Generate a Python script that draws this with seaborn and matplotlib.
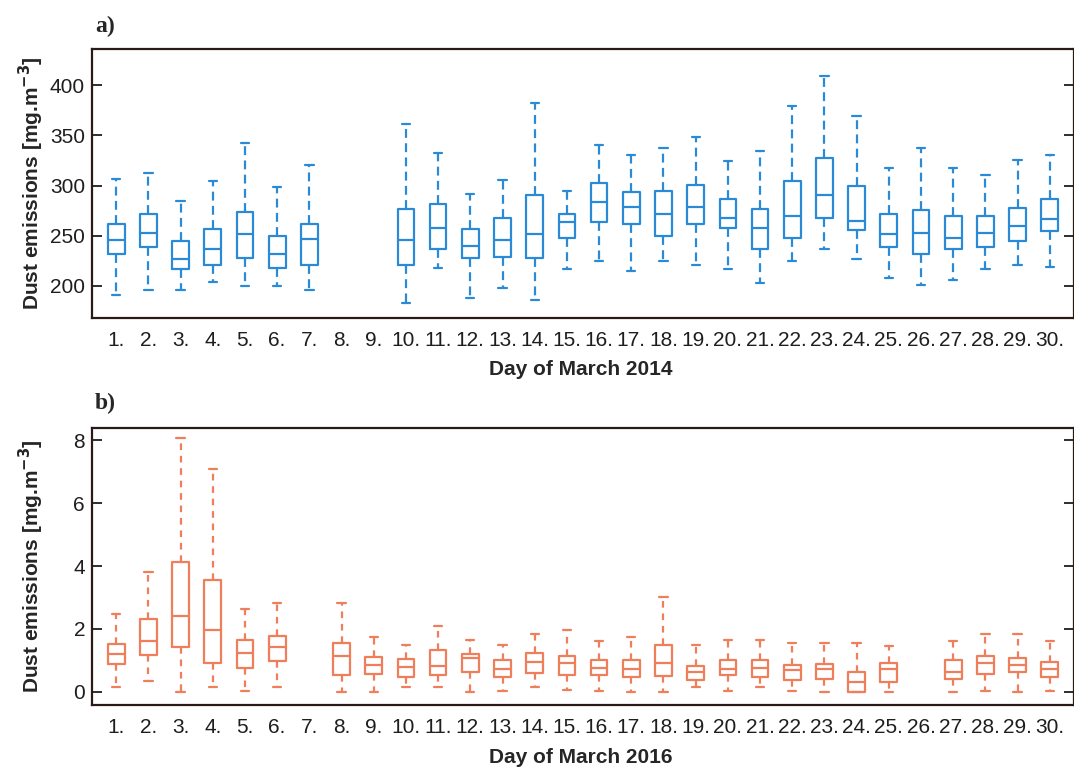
import numpy as np
import pandas as pd
import matplotlib
matplotlib.use("Agg")
import matplotlib.pyplot as plt
import seaborn as sns

days = [f"{d}." for d in range(1, 31)]

# March 2014 - five-number summaries per day (None = no data)
lo_14 = [191, 196, 196, 204, 200, 200, 196, None, None, 183, 218, 188, 198, 186,
         217, 225, 215, 225, 221, 217, 203, 225, 237, 227, 208, 201, 206, 217, 221, 219]
q1_14 = [232, 239, 217, 221, 228, 218, 221, None, None, 221, 237, 228, 229, 228,
         248, 264, 262, 250, 262, 258, 237, 248, 268, 256, 239, 232, 237, 239, 245, 255]
md_14 = [246, 253, 227, 237, 252, 232, 247, None, None, 246, 258, 240, 246, 252,
         264, 284, 279, 272, 279, 268, 258, 270, 291, 265, 252, 253, 248, 253, 260, 267]
q3_14 = [262, 272, 245, 257, 274, 250, 262, None, None, 277, 282, 257, 268, 291,
         272, 302, 294, 295, 301, 287, 277, 304, 327, 300, 272, 276, 270, 270, 278, 287]
hi_14 = [306, 312, 285, 304, 342, 299, 320, None, None, 361, 332, 292, 305, 382,
         295, 340, 330, 337, 348, 324, 334, 379, 409, 369, 317, 337, 317, 310, 325, 330]

# March 2016
lo_16 = [0.14, 0.35, 0.0, 0.14, 0.03, 0.14, None, 0.0, 0.0, 0.14, 0.14, 0.0, 0.03, 0.14,
         0.07, 0.03, 0.0, 0.0, 0.14, 0.03, 0.14, 0.03, 0.0, 0.0, 0.0, None, 0.0, 0.03, 0.0, 0.03]
q1_16 = [0.88, 1.17, 1.43, 0.92, 0.77, 0.97, None, 0.55, 0.58, 0.48, 0.55, 0.64, 0.48, 0.60,
         0.53, 0.53, 0.48, 0.50, 0.39, 0.53, 0.48, 0.37, 0.42, 0.0, 0.32, None, 0.42, 0.58, 0.64, 0.48]
md_16 = [1.20, 1.61, 2.40, 1.98, 1.22, 1.43, None, 1.13, 0.85, 0.79, 0.82, 1.06, 0.74, 0.95,
         0.90, 0.77, 0.74, 0.92, 0.64, 0.74, 0.77, 0.69, 0.71, 0.30, 0.74, None, 0.64, 0.90, 0.85, 0.74]
q3_16 = [1.51, 2.30, 4.13, 3.57, 1.66, 1.77, None, 1.54, 1.11, 1.03, 1.32, 1.20, 1.00, 1.22,
         1.13, 1.00, 1.00, 1.48, 0.82, 1.00, 1.00, 0.85, 0.88, 0.64, 0.92, None, 1.00, 1.13, 1.09, 0.95]
hi_16 = [2.49, 3.81, 8.08, 7.10, 2.62, 2.81, None, 2.83, 1.75, 1.50, 2.09, 1.64, 1.50, 1.83,
         1.98, 1.62, 1.73, 3.00, 1.48, 1.66, 1.64, 1.56, 1.56, 1.54, 1.45, None, 1.62, 1.83, 1.83, 1.62]


def to_long(lo, q1, md, q3, hi):
    rows = []
    for i, d in enumerate(days):
        if lo[i] is None:
            continue
        for v in (lo[i], q1[i], md[i], q3[i], hi[i]):
            rows.append((d, v))
    return pd.DataFrame(rows, columns=["day", "value"])


df14 = to_long(lo_14, q1_14, md_14, q3_14, hi_14)
df16 = to_long(lo_16, q1_16, md_16, q3_16, hi_16)

sns.set_style("white")
plt.rcParams["font.family"] = ["Liberation Sans", "DejaVu Sans"]

fig = plt.figure(figsize=(10.74, 7.71), dpi=100)
W, H = 1074, 771
ax1 = fig.add_axes([92 / W, 1 - 318 / H, 982 / W, 269 / H])
ax2 = fig.add_axes([92 / W, 1 - 705 / H, 982 / W, 277 / H])

blue = "#2a8ad6"
orange = "#ef7f5a"
frame = "#2a1a16"

panels = [
    (ax1, df14, blue, (0, (4, 2.4)), (168, 436), [200, 250, 300, 350, 400], "Day of March 2014", "a)", 1.085),
    (ax2, df16, orange, (0, (3, 2.6)), (-0.42, 8.39), [0, 2, 4, 6, 8], "Day of March 2016", "b)", 1.09),
]

for ax, df, col, dash, ylim, yt, xlab, tag, ty in panels:
    sns.boxplot(data=df, x="day", y="value", order=days, ax=ax, fill=False,
                color=col, linecolor=col, linewidth=1.6, width=0.52, whis=(0, 100),
                whiskerprops={"linestyle": dash}, showfliers=False)
    ax.set_xlim(-0.75, 29.75)
    ax.set_ylim(*ylim)
    ax.set_yticks(yt)
    ax.set_xticks(range(30))
    ax.set_xticklabels(days)
    ax.tick_params(axis="x", bottom=False, labelsize=15, pad=6, colors="#1e1e1e")
    ax.tick_params(axis="y", direction="in", left=True, right=True, length=7,
                   width=1.3, labelsize=15, pad=5, colors="#1e1e1e")
    for s in ax.spines.values():
        s.set_color(frame)
        s.set_linewidth(1.6)
    ax.set_xlabel(xlab, fontsize=15, fontweight="bold")
    ax.set_ylabel("Dust emissions [mg.m$^{\\mathbf{-3}}$]", fontsize=15, fontweight="bold")
    ax.xaxis.set_label_coords(0.498, -0.155)
    ax.yaxis.set_label_coords(-0.047, 0.5)
    ax.xaxis.label.set_va("top")
    ax.text(0.003, ty, tag, transform=ax.transAxes, fontsize=17, fontweight="bold",
            family="Liberation Serif", va="center", ha="left")

fig.savefig("out.png", dpi=100, facecolor="white")
